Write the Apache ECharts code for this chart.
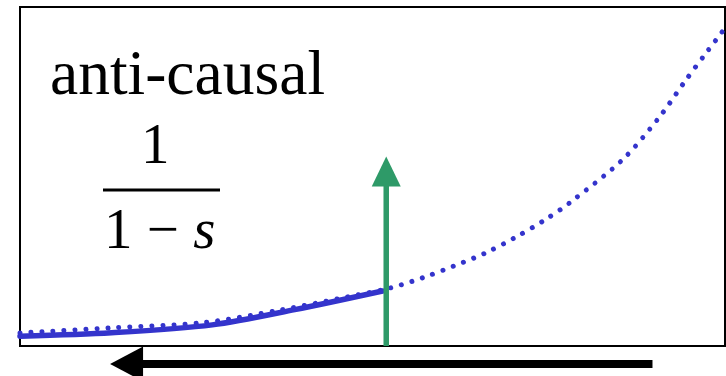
<!DOCTYPE html>
<html>
<head>
<meta charset="utf-8">
<script src="https://cdn.jsdelivr.net/npm/echarts@6/dist/echarts.min.js"></script>
<style>
  html, body { margin: 0; padding: 0; background: #fff; }
  #chart { width: 726px; height: 376px; }
</style>
</head>
<body>
<div id="chart"></div>
<script>
// values (t on the x axis, signal on the y axis)
var dottedT = [-2.0, -1.5, -1.0, -0.58, -0.21, 0.02, 0.2, 0.37, 0.54, 0.70, 0.86, 1.0, 1.29, 1.49, 1.63, 1.74, 1.85]
var dottedY = [0.065, 0.17, 0.275, 0.53, 0.80, 0.98, 1.19, 1.43, 1.69, 2.0, 2.35, 2.71, 3.59, 4.45, 5.18, 5.73, 6.27]
var solidT = [-2.0, -1.5, -0.95, -0.5, -0.02]
var solidY = [0.0, 0.07, 0.23, 0.54, 0.92]
var impulseT = 0
var impulseTop = 3.35
var arrowT = [1.454, -1.418] // black arrow below the box, pointing left
var arrowY = -0.566

var blue = '#3434cc'
var green = '#2e9a68'
var serif = '"Liberation Serif", "Times New Roman", serif'

function pairs(xs, ys) {
  var out = []
  for (let i = 0; i < xs.length; i++) {
    out.push([xs[i], ys[i]])
  }
  return out
}

var myChart = echarts.init(document.getElementById('chart'), null, { renderer: 'canvas' })
var option = {
  animation: false,
  backgroundColor: '#fff',
  grid: {
    left: 20,
    right: 1,
    top: 7,
    bottom: 30,
    show: true,
    borderColor: '#000',
    borderWidth: 2,
    backgroundColor: '#fff'
  },
  xAxis: {
    type: 'value',
    min: -2,
    max: 1.85,
    show: false
  },
  yAxis: {
    type: 'value',
    min: -0.2,
    max: 6.7,
    show: false
  },
  graphic: [
    {
      type: 'text',
      left: 50,
      top: 45,
      style: { text: 'anti-causal', fontSize: 63.5, fontFamily: serif, fill: '#000' }
    },
    {
      type: 'text',
      left: 141,
      top: 120,
      style: { text: '1', fontSize: 57, fontFamily: serif, fill: '#000' }
    },
    {
      type: 'rect',
      shape: { x: 103, y: 188.5, width: 117, height: 3 },
      style: { fill: '#000' }
    },
    {
      type: 'text',
      left: 104,
      top: 205,
      style: {
        text: '{n|1 − }{i|s}',
        rich: {
          n: { fontSize: 57, fontFamily: serif, fill: '#000' },
          i: { fontSize: 57, fontFamily: serif, fontStyle: 'italic', fill: '#000' }
        }
      }
    }
  ],
  series: [
    {
      type: 'line',
      data: pairs(dottedT, dottedY),
      smooth: 0.3,
      symbol: 'none',
      silent: true,
      lineStyle: { color: blue, width: 5, type: [0.01, 11], cap: 'round' },
      z: 2
    },
    {
      type: 'line',
      data: pairs(solidT, solidY),
      smooth: 0.3,
      symbol: 'none',
      silent: true,
      lineStyle: { color: blue, width: 5.5, cap: 'round' },
      z: 3
    },
    {
      type: 'line',
      data: [{ value: [impulseT, -0.2], symbol: 'none' }, [impulseT, impulseTop]],
      symbol: 'triangle',
      symbolSize: [29, 30],
      showSymbol: true,
      silent: true,
      itemStyle: { color: green },
      lineStyle: { color: green, width: 5.5 },
      z: 4
    },
    {
      type: 'line',
      clip: false,
      data: [{ value: [arrowT[0], arrowY], symbol: 'none' }, [arrowT[1], arrowY]],
      symbol: 'triangle',
      symbolSize: [35, 33],
      symbolRotate: 90,
      showSymbol: true,
      silent: true,
      itemStyle: { color: '#000' },
      lineStyle: { color: '#000', width: 8 },
      z: 4
    }
  ]
}
option && myChart.setOption(option)
</script>
</body>
</html>
